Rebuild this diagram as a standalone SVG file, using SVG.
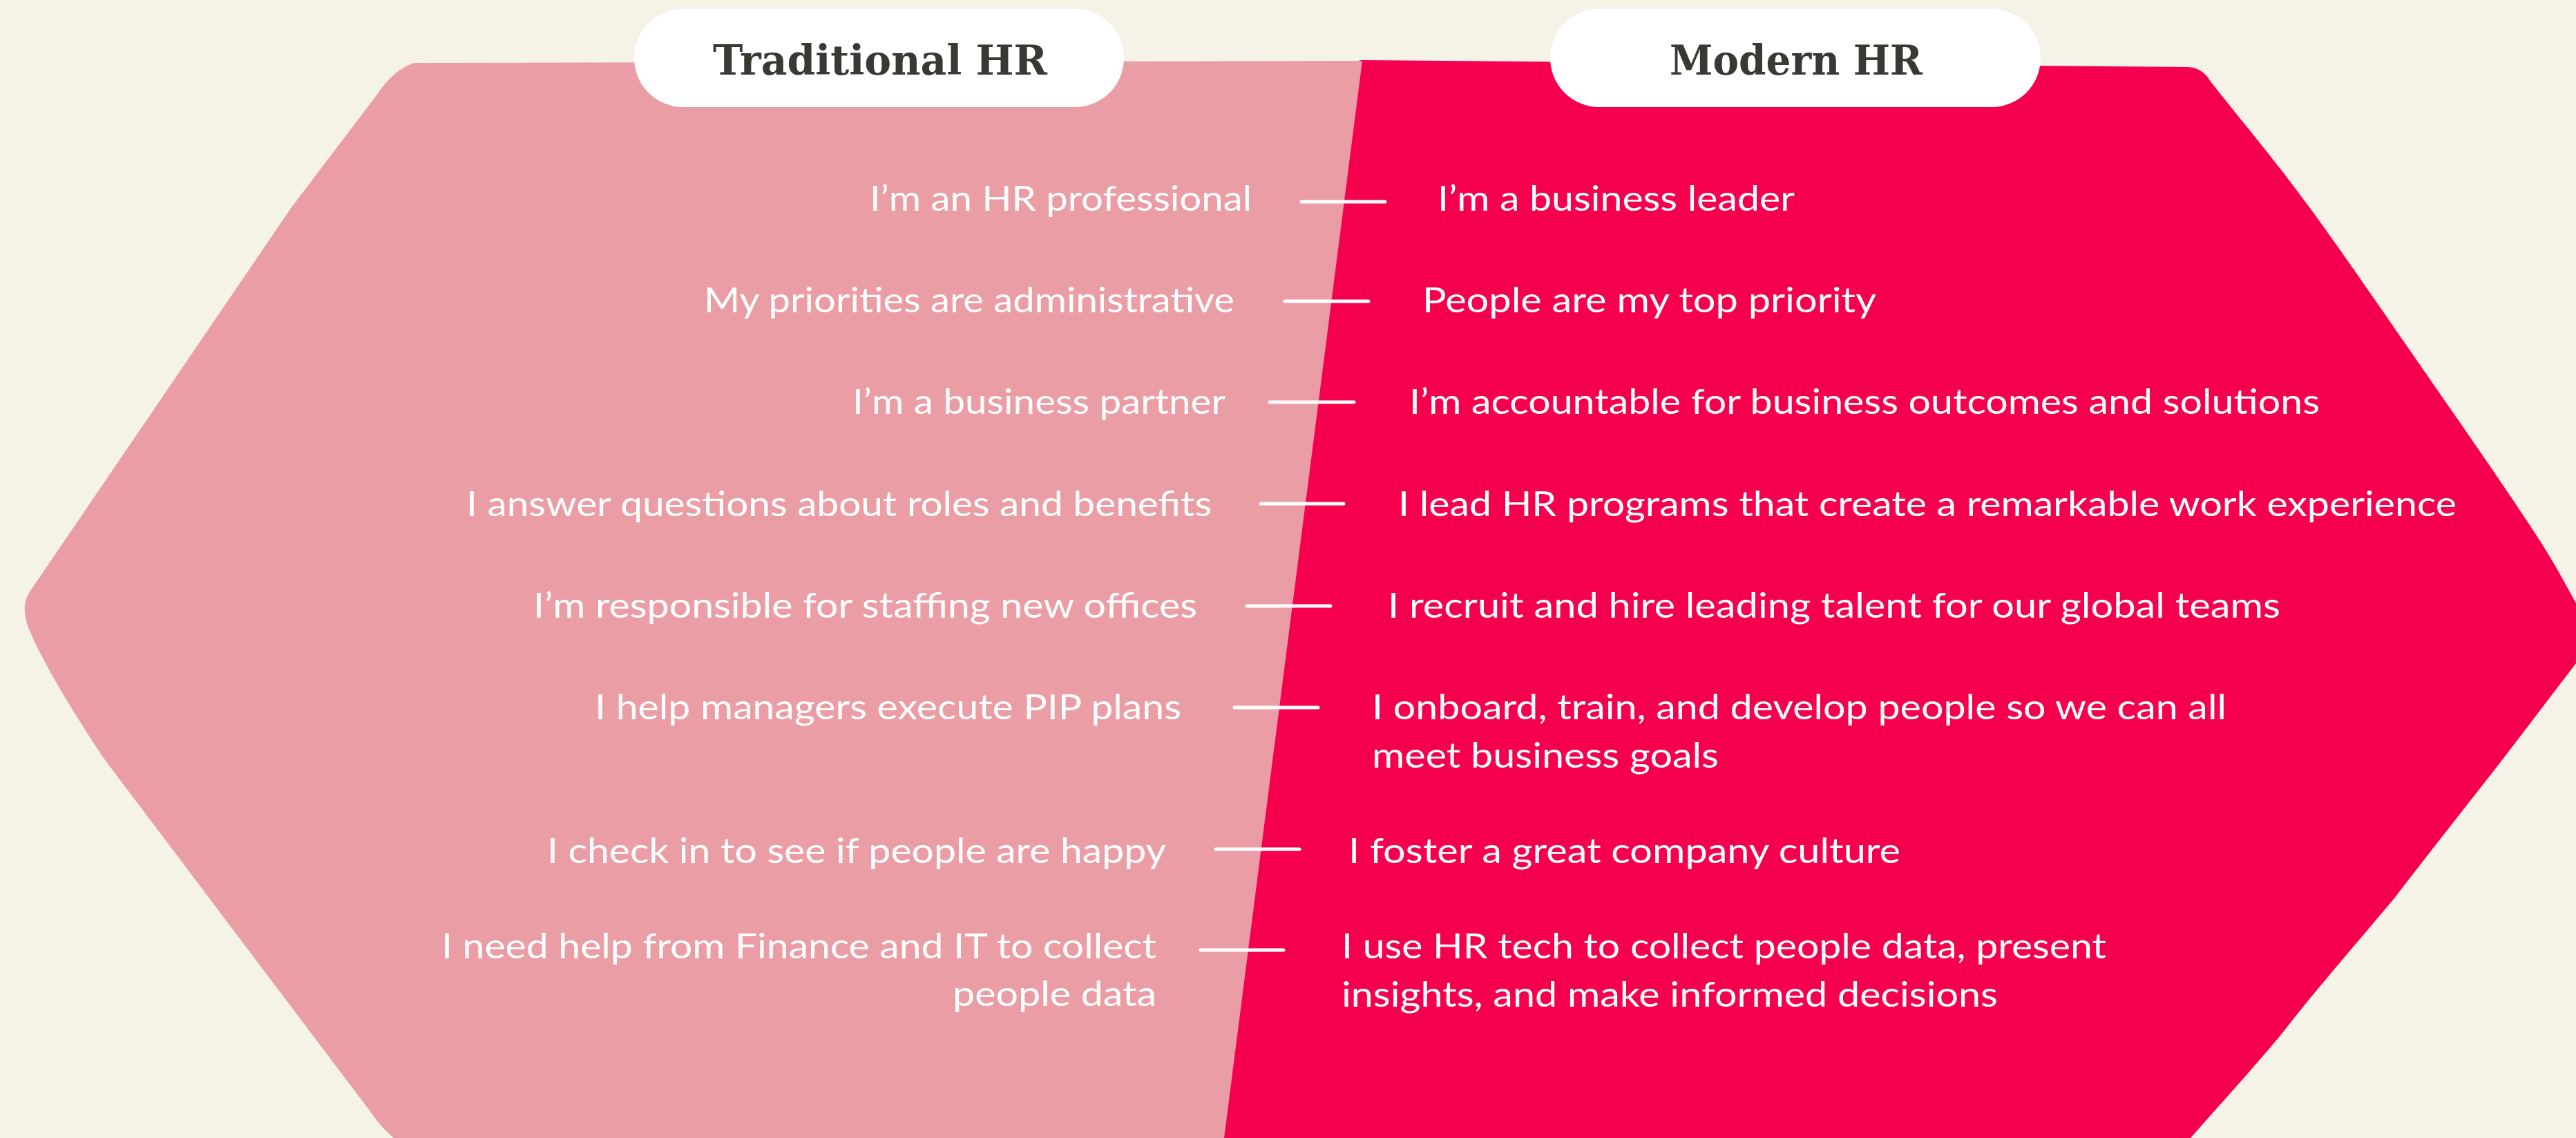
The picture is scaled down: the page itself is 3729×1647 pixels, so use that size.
<svg xmlns="http://www.w3.org/2000/svg" width="3729" height="1647" viewBox="0 0 3729 1647">
  <style>
    .bg { fill: #F5F3E8; }
    .trad { fill: #EA9DA4; }
    .modern { fill: #F5004E; }
    .pill { fill: #FFFFFF; }
    .head { font-family: "DejaVu Serif", "Liberation Serif", serif; font-weight: bold; font-size: 60px; fill: #393934; }
    .item { font-family: Lato, "Open Sans", sans-serif; font-size: 50px; fill: #FFFFFF; }
    .link { stroke: #FFFFFF; stroke-width: 5; stroke-linecap: round; fill: none; }
  </style>

  <rect class="bg" x="0" y="0" width="3729" height="1647"/>

  <!-- Modern HR panel (right) -->
  <g id="panel-modern">
    <path class="modern" d="M 1968 87 L 3165 97 Q 3188 97 3200 118 C 3248 179 3284 220 3343 300 C 3402 380 3497 520 3553 600 C 3609 681 3648 738 3677 783 C 3706 829 3715 848 3729 873 L 3770 915 L 3729 960 C 3693 1007 3658 1053 3622 1100 C 3570 1167 3518 1232 3466 1300 C 3410 1367 3350 1435 3300 1500 C 3258 1550 3214 1598 3171 1647 L 1768 1647 Z"/>
  </g>

  <!-- Traditional HR panel (left) -->
  <g id="panel-traditional">
    <path class="trad" d="M 600 91 L 1972 88 L 1772 1647 L 570 1647 Q 552 1632 540 1614 L 152 1100 C 115 1045 65 965 44 915 C 32 888 34 870 44 855 L 422 300 L 545 138 Q 570 100 600 91 Z"/>
  </g>

  <!-- Column headers -->
  <g id="header-traditional">
    <rect class="pill" x="918" y="13" width="709" height="142" rx="71" ry="71"/>
    <text class="head" x="1032" y="108" textLength="484" lengthAdjust="spacingAndGlyphs">Traditional HR</text>
  </g>
  <g id="header-modern">
    <rect class="pill" x="2244" y="13" width="710" height="142" rx="71" ry="71"/>
    <text class="head" x="2417" y="108" textLength="366" lengthAdjust="spacingAndGlyphs">Modern HR</text>
  </g>

  <!-- Connectors between paired statements -->
  <g id="connectors">
    <line class="link" x1="1884" y1="292" x2="2005" y2="292"/>
    <line class="link" x1="1860" y1="436" x2="1981" y2="436"/>
    <line class="link" x1="1838" y1="582" x2="1960" y2="582"/>
    <line class="link" x1="1825" y1="729" x2="1945" y2="729"/>
    <line class="link" x1="1805" y1="877" x2="1926" y2="877"/>
    <line class="link" x1="1787" y1="1024" x2="1908" y2="1024"/>
    <line class="link" x1="1760" y1="1229" x2="1881" y2="1229"/>
    <line class="link" x1="1738" y1="1375" x2="1858" y2="1375"/>
  </g>

  <!-- Traditional HR statements -->
  <g id="trad-1"><text class="item" x="1259" y="305" textLength="553" lengthAdjust="spacingAndGlyphs">I’m an HR professional</text></g>
  <g id="trad-2"><text class="item" x="1019" y="452" textLength="768" lengthAdjust="spacingAndGlyphs">My priorities are administrative</text></g>
  <g id="trad-3"><text class="item" x="1234" y="599" textLength="540" lengthAdjust="spacingAndGlyphs">I’m a business partner</text></g>
  <g id="trad-4"><text class="item" x="675" y="747" textLength="1079" lengthAdjust="spacingAndGlyphs">I answer questions about roles and benefits</text></g>
  <g id="trad-5"><text class="item" x="772" y="894" textLength="961" lengthAdjust="spacingAndGlyphs">I’m responsible for staffing new offices</text></g>
  <g id="trad-6"><text class="item" x="861" y="1041" textLength="849" lengthAdjust="spacingAndGlyphs">I help managers execute PIP plans</text></g>
  <g id="trad-7"><text class="item" x="792" y="1249" textLength="896" lengthAdjust="spacingAndGlyphs">I check in to see if people are happy</text></g>
  <g id="trad-8">
    <text class="item" x="639" y="1387" textLength="1035" lengthAdjust="spacingAndGlyphs">I need help from Finance and IT to collect</text>
    <text class="item" x="1379" y="1456" textLength="295" lengthAdjust="spacingAndGlyphs">people data</text>
  </g>

  <!-- Modern HR statements -->
  <g id="modern-1"><text class="item" x="2081" y="305" textLength="517" lengthAdjust="spacingAndGlyphs">I’m a business leader</text></g>
  <g id="modern-2"><text class="item" x="2059" y="452" textLength="657" lengthAdjust="spacingAndGlyphs">People are my top priority</text></g>
  <g id="modern-3"><text class="item" x="2040" y="599" textLength="1318" lengthAdjust="spacingAndGlyphs">I’m accountable for business outcomes and solutions</text></g>
  <g id="modern-4"><text class="item" x="2024" y="747" textLength="1532" lengthAdjust="spacingAndGlyphs">I lead HR programs that create a remarkable work experience</text></g>
  <g id="modern-5"><text class="item" x="2009" y="894" textLength="1292" lengthAdjust="spacingAndGlyphs">I recruit and hire leading talent for our global teams</text></g>
  <g id="modern-6">
    <text class="item" x="1986" y="1041" textLength="1237" lengthAdjust="spacingAndGlyphs">I onboard, train, and develop people so we can all</text>
    <text class="item" x="1986" y="1111" textLength="502" lengthAdjust="spacingAndGlyphs">meet business goals</text>
  </g>
  <g id="modern-7"><text class="item" x="1952" y="1249" textLength="799" lengthAdjust="spacingAndGlyphs">I foster a great company culture</text></g>
  <g id="modern-8">
    <text class="item" x="1942" y="1387" textLength="1107" lengthAdjust="spacingAndGlyphs">I use HR tech to collect people data, present</text>
    <text class="item" x="1942" y="1457" textLength="950" lengthAdjust="spacingAndGlyphs">insights, and make informed decisions</text>
  </g>
</svg>
